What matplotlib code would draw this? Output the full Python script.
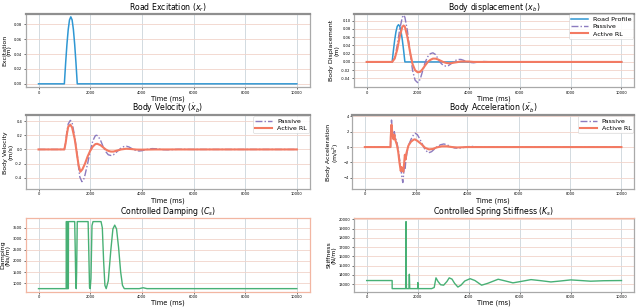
import numpy as np
import matplotlib.pyplot as plt

# road bump
t_road = [0, 1000, 1050, 1100, 1150, 1200, 1250, 1300, 1350, 1400, 1450, 1500, 10000]
x_road = [0, 0, 0.028, 0.053, 0.073, 0.086, 0.090, 0.086, 0.073, 0.053, 0.028, 0, 0]

# body displacement
t_disp = [0, 1000, 1100, 1200, 1300, 1400, 1450, 1500, 1600, 1700, 1800, 1900, 2000,
          2100, 2200, 2300, 2400, 2500, 2600, 2700, 2800, 2900, 3000, 3100, 3200,
          3300, 3400, 3500, 3600, 3700, 3800, 3900, 4000, 4200, 4400, 4600, 5000, 10000]
disp_passive = [0, 0, 0.01, 0.04, 0.08, 0.108, 0.113, 0.108, 0.075, 0.025, -0.02, -0.044, -0.05,
                -0.042, -0.021, 0.0, 0.013, 0.02, 0.022, 0.018, 0.008, -0.002, -0.008, -0.01, -0.009,
                -0.005, 0.0, 0.004, 0.006, 0.006, 0.004, 0.001, -0.001, -0.002, 0.0, 0.001, 0, 0]
disp_active = [0, 0, 0.008, 0.03, 0.062, 0.085, 0.088, 0.085, 0.06, 0.025, -0.005, -0.02, -0.025,
               -0.024, -0.017, -0.008, 0.0, 0.005, 0.008, 0.008, 0.006, 0.003, 0.0, -0.002, -0.003,
               -0.003, -0.002, -0.001, 0.0, 0.001, 0.001, 0.001, 0.001, 0.0, 0, 0, 0, 0]

# body velocity
t_vel_p = [0, 1000, 1050, 1100, 1150, 1230, 1300, 1400, 1450, 1500, 1550, 1600, 1680, 1750,
           1800, 1900, 2000, 2100, 2200, 2250, 2300, 2400, 2500, 2600, 2700, 2800, 2900,
           3000, 3100, 3200, 3300, 3400, 3500, 3600, 3700, 3800, 3900, 4000, 4200, 4400,
           4600, 4800, 5000, 5400, 6000, 10000]
vel_passive = [0, 0, 0.1, 0.25, 0.36, 0.41, 0.38, 0.18, 0.05, -0.08, -0.25, -0.39, -0.455, -0.42,
               -0.36, -0.2, -0.03, 0.12, 0.195, 0.2, 0.19, 0.13, 0.04, -0.03, -0.075, -0.085, -0.075,
               -0.045, -0.01, 0.02, 0.04, 0.045, 0.035, 0.015, -0.005, -0.018, -0.022, -0.018, 0.0, 0.012,
               0.008, -0.003, -0.005, 0.002, 0, 0]
t_vel_a = [0, 1000, 1050, 1100, 1150, 1230, 1300, 1400, 1450, 1500, 1550, 1620, 1700, 1800,
           1900, 2000, 2100, 2200, 2270, 2400, 2500, 2600, 2700, 2800, 2900, 3000, 3200,
           3400, 3600, 3800, 4000, 4500, 10000]
vel_active = [0, 0, 0.09, 0.22, 0.32, 0.35, 0.31, 0.15, 0.03, -0.1, -0.22, -0.315, -0.28, -0.2,
              -0.1, -0.02, 0.04, 0.075, 0.08, 0.06, 0.03, 0.0, -0.02, -0.03, -0.03, -0.02, 0.0,
              0.01, 0.005, -0.002, -0.003, 0, 0]

# body acceleration
t_acc_p = [0, 1000, 1010, 1040, 1080, 1120, 1150, 1180, 1250, 1300, 1350, 1400, 1440, 1480,
           1510, 1540, 1570, 1600, 1650, 1700, 1800, 1900, 1960, 2050, 2150, 2250, 2350,
           2480, 2600, 2700, 2800, 2950, 3080, 3200, 3350, 3500, 3650, 3800, 4000, 4200,
           4500, 4800, 5200, 10000]
acc_passive = [0, 0, 1.5, 3.5, 1.8, 1.2, 2.0, 1.3, 0.6, -0.3, -1.5, -2.6, -3.8, -4.6,
               -3.6, -2.4, -2.9, -1.6, -0.6, 0.2, 1.0, 1.6, 1.8, 1.6, 1.0, 0.3, -0.35,
               -0.75, -0.6, -0.3, 0.0, 0.3, 0.4, 0.3, 0.05, -0.12, -0.15, -0.08, 0.05, 0.08,
               0.0, -0.03, 0.0, 0]
t_acc_a = [0, 1000, 1010, 1040, 1080, 1120, 1150, 1180, 1250, 1300, 1350, 1400, 1430, 1460,
           1500, 1530, 1560, 1590, 1620, 1700, 1800, 1900, 1950, 2050, 2200, 2350, 2500,
           2650, 2800, 3000, 3200, 3400, 3600, 4000, 10000]
acc_active = [0, 0, 1.3, 2.9, 1.5, 1.0, 1.6, 1.0, 0.3, -0.6, -2.0, -3.1, -2.6, -3.0,
              -3.2, -2.2, -1.0, -1.6, -0.8, 0.2, 0.7, 0.95, 1.0, 0.8, 0.4, -0.1, -0.3,
              -0.25, -0.05, 0.1, 0.1, 0.0, -0.05, 0.0, 0]

# controlled damping
t_damp = [0, 1070, 1075, 1088, 1093, 1110, 1115, 1130, 1135, 1155, 1160, 1400, 1420, 1445,
          1460, 1475, 1500, 1920, 1945, 1975, 2000, 2030, 2070, 2110, 2420, 2470, 2520,
          2570, 2620, 2700, 2800, 2880, 2950, 3020, 3100, 3180, 3250, 3320, 3900, 4050,
          4200, 10000]
damping = [750, 750, 3780, 3780, 750, 750, 3780, 3780, 750, 750, 3780, 3780, 2600, 800,
           750, 1500, 3780, 3780, 2500, 800, 750, 1200, 3600, 3780, 3780, 3500, 2000,
           900, 750, 1100, 2500, 3450, 3620, 3450, 2600, 1500, 900, 750, 750, 790,
           750, 750]

# controlled stiffness
t_stiff = [0, 1000, 1001, 1530, 1545, 1560, 1660, 1675, 1690, 2000, 2010, 2020, 2550, 2650,
           2720, 2800, 2900, 3020, 3150, 3240, 3350, 3450, 3580, 3700, 3850, 4060, 4250,
           4510, 4750, 5160, 5450, 5740, 6050, 6450, 6850, 7230, 7600, 8010, 8400, 8790,
           9300, 10000]
stiffness = [13400, 13400, 12530, 12530, 19750, 12530, 12530, 14080, 12530, 12530, 13180, 12530, 12530, 12650,
             13690, 13300, 12950, 12900, 13300, 13690, 13550, 13100, 12700, 12900, 13350, 13600, 13400,
             12900, 13100, 13540, 13350, 13150, 13300, 13500, 13380, 13250, 13350, 13470, 13400, 13330,
             13380, 13400]

c_road = '#2f97d3'
c_pass = '#8c7bbf'
c_act = '#f37a62'
c_green = '#48b075'
dashdot = (0, (5, 1.5, 1, 1.5))

fig = plt.figure(figsize=(6.4, 3.07), dpi=100)
L = [0.040, 0.553]
W = [0.444, 0.438]
B = [0.716, 0.384, 0.049]
H = 0.240


def style(ax, title, ylabel, spine='#a9a9a9'):
    ax.set_title(title, fontsize=5.6, pad=1.2)
    ax.set_xlabel('Time (ms)', fontsize=4.8, labelpad=0.5)
    ax.set_ylabel(ylabel, fontsize=4.5, labelpad=1.5, linespacing=1.0)
    ax.tick_params(labelsize=2.6, length=1.2, width=0.4, pad=1.2)
    ax.grid(axis='x', color='#cbd4da', lw=0.6)
    ax.grid(axis='y', color='#f1d3ca', lw=0.6)
    ax.set_axisbelow(True)
    for s in ax.spines.values():
        s.set_color(spine)
        s.set_linewidth(0.9)
    ax.set_xticks([0, 2000, 4000, 6000, 8000, 10000])


def legend(ax):
    leg = ax.legend(loc='upper right', fontsize=4.6, borderaxespad=0.15, handlelength=2.6,
                    framealpha=0.9, borderpad=0.3, labelspacing=0.3)
    leg.get_frame().set_linewidth(0.4)


ax1 = fig.add_axes([L[0], B[0], W[0], H])
ax1.plot(t_road, x_road, color=c_road, lw=1.1)
style(ax1, r'Road Excitation ($x_r$)', 'Excitation\n(m)')
ax1.set_yticks([0, 0.02, 0.04, 0.06, 0.08])
ax1.yaxis.set_major_formatter(plt.FormatStrFormatter('%.2f'))
ax1.spines['top'].set_color('#8f8f8f')
ax1.spines['top'].set_linewidth(1.6)

ax2 = fig.add_axes([L[1], B[0], W[1], H])
ax2.plot(t_road, x_road, color=c_road, lw=1.1, label='Road Profile')
ax2.plot(t_disp, disp_passive, color=c_pass, lw=1.0, ls=dashdot, label='Passive')
ax2.plot(t_disp, disp_active, color=c_act, lw=1.5, label='Active RL')
style(ax2, r'Body displacement ($x_b$)', 'Body Displacement\n(m)')
ax2.set_yticks([-0.04, -0.02, 0, 0.02, 0.04, 0.06, 0.08, 0.10])
ax2.set_ylim(-0.061, 0.117)
ax2.yaxis.set_major_formatter(plt.FormatStrFormatter('%.2f'))
legend(ax2)
ax2.spines['top'].set_color('#8f8f8f')
ax2.spines['top'].set_linewidth(1.6)

ax3 = fig.add_axes([L[0], B[1], W[0], H])
ax3.plot(t_vel_p, vel_passive, color=c_pass, lw=1.0, ls=dashdot, label='Passive')
ax3.plot(t_vel_a, vel_active, color=c_act, lw=1.5, label='Active RL')
style(ax3, r'Body Velocity ($\dot{x}_b$)', 'Body Velocity\n(m/s)')
ax3.set_yticks([-0.4, -0.2, 0, 0.2, 0.4])
ax3.set_ylim(-0.56, 0.48)
ax3.yaxis.set_major_formatter(plt.FormatStrFormatter('%.1f'))
legend(ax3)
ax3.spines['top'].set_color('#8f8f8f')
ax3.spines['top'].set_linewidth(1.6)

ax4 = fig.add_axes([L[1] - 0.003, B[1], W[1] + 0.003, H])
ax4.plot(t_acc_p, acc_passive, color=c_pass, lw=1.0, ls=dashdot, label='Passive')
ax4.plot(t_acc_a, acc_active, color=c_act, lw=1.5, label='Active RL')
style(ax4, r'Body Acceleration ($\ddot{x}_b$)', 'Body Acceleration\n(m/s$^2$)')
ax4.set_yticks([-4, -2, 0, 2, 4])
ax4.set_ylim(-5.45, 4.1)
legend(ax4)
ax4.spines['top'].set_color('#8f8f8f')
ax4.spines['top'].set_linewidth(1.6)

ax5 = fig.add_axes([L[0], B[2], W[0], H])
ax5.plot(t_damp, damping, color=c_green, lw=1.0)
style(ax5, r'Controlled Damping ($C_s$)', 'Damping\n(Ns/m)', spine='#f2b6a2')
ax5.set_yticks([1000, 1500, 2000, 2500, 3000, 3500])
ax5.set_ylim(600, 3930)

ax6 = fig.add_axes([L[1], B[2], W[1], H])
ax6.plot(t_stiff, stiffness, color=c_green, lw=1.0)
style(ax6, r'Controlled Spring Stiffness ($K_s$)', 'Stiffness\n(N/m)')
ax6.set_yticks([13000, 14000, 15000, 16000, 17000, 18000, 19000, 20000])
ax6.set_ylim(12170, 20110)
ax6.spines['top'].set_color('#f2b6a2')

fig.savefig('out.png', dpi=100)
